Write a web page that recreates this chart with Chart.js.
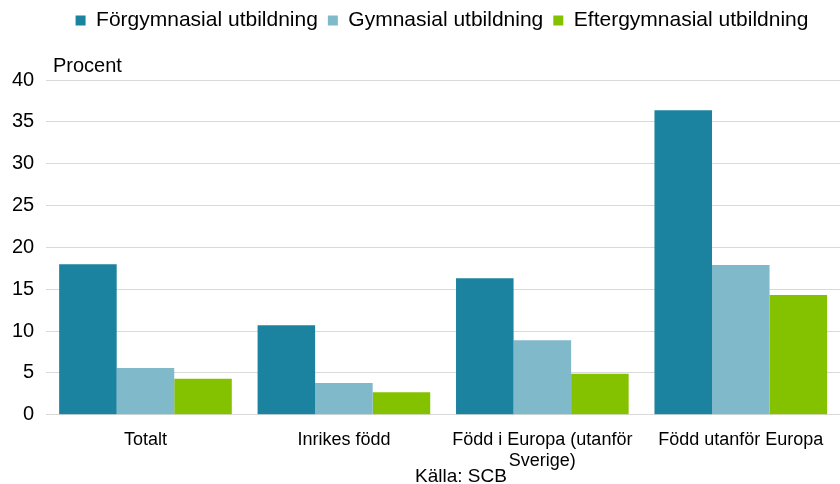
<!DOCTYPE html>
<html>
<head>
<meta charset="utf-8">
<script src="https://cdn.jsdelivr.net/npm/chart.js@4"></script>
<style>
  body { margin: 0; background: #fff; }
  #wrap { width: 840px; height: 484px; position: relative; }
</style>
</head>
<body>
<div id="wrap"><canvas id="chart"></canvas></div>
<script>
const categories = ['Totalt', 'Inrikes född', ['Född i Europa (utanför', 'Sverige)'], 'Född utanför Europa'];
const forgymnasial = [18.0, 10.7, 16.3, 36.4];
const gymnasial = [5.6, 3.8, 8.9, 17.9];
const eftergymnasial = [4.3, 2.7, 4.9, 14.3];
const yTicks = [0, 5, 10, 15, 20, 25, 30, 35, 40];

const font = "'Liberation Sans', Arial, sans-serif";

// room under the legend for "Procent", legend centred over the plot
const legendSpace = {
  id: 'legendSpace',
  beforeInit(chart) {
    const legend = chart.legend;
    const fit = legend.fit;
    legend.fit = function () {
      fit.bind(legend)();
      this.height += 39;
    };
    const draw = legend.draw;
    legend.draw = function () {
      chart.ctx.save();
      chart.ctx.translate(22, 0);
      draw.bind(legend)();
      chart.ctx.restore();
    };
  }
};

// "Procent" above the axis and the source line at the bottom
const extraText = {
  id: 'extraText',
  afterDraw(chart) {
    const ctx = chart.ctx;
    const area = chart.chartArea;
    ctx.save();
    ctx.fillStyle = '#000';
    ctx.font = '20px ' + font;
    ctx.textBaseline = 'middle';
    ctx.textAlign = 'left';
    ctx.fillText('Procent', 53, 66);
    ctx.font = '19px ' + font;
    ctx.textAlign = 'center';
    ctx.fillText('Källa: SCB', 461, 477);
    ctx.restore();
  }
};

new Chart(document.getElementById('chart'), {
  type: 'bar',
  data: {
    labels: categories,
    datasets: [
      { label: 'Förgymnasial utbildning', data: forgymnasial, backgroundColor: '#1B83A0' },
      { label: 'Gymnasial utbildning', data: gymnasial, backgroundColor: '#80B9CA' },
      { label: 'Eftergymnasial utbildning', data: eftergymnasial, backgroundColor: '#84C200' }
    ]
  },
  options: {
    responsive: true,
    maintainAspectRatio: false,
    animation: false,
    layout: { padding: { top: 0, right: 0, bottom: 6, left: 0 } },
    datasets: { bar: { categoryPercentage: 0.87, barPercentage: 1 } },
    plugins: {
      legend: {
        position: 'top',
        labels: {
          font: { family: font, size: 21 },
          color: '#000',
          boxWidth: 10,
          boxHeight: 10,
          padding: 10
        }
      },
      tooltip: { enabled: false }
    },
    scales: {
      x: {
        grid: { display: false },
        border: { color: '#D9D9D9' },
        ticks: { font: { family: font, size: 18, lineHeight: 1.2 }, color: '#000', maxRotation: 0, padding: 6 }
      },
      y: {
        min: 0,
        max: 40,
        afterBuildTicks: axis => { axis.ticks = yTicks.map(v => ({ value: v })); },
        grid: { color: '#D9D9D9', drawTicks: false },
        border: { display: false },
        ticks: { font: { family: font, size: 20 }, color: '#000', padding: 12 }
      }
    }
  },
  plugins: [legendSpace, extraText]
});
</script>
</body>
</html>
